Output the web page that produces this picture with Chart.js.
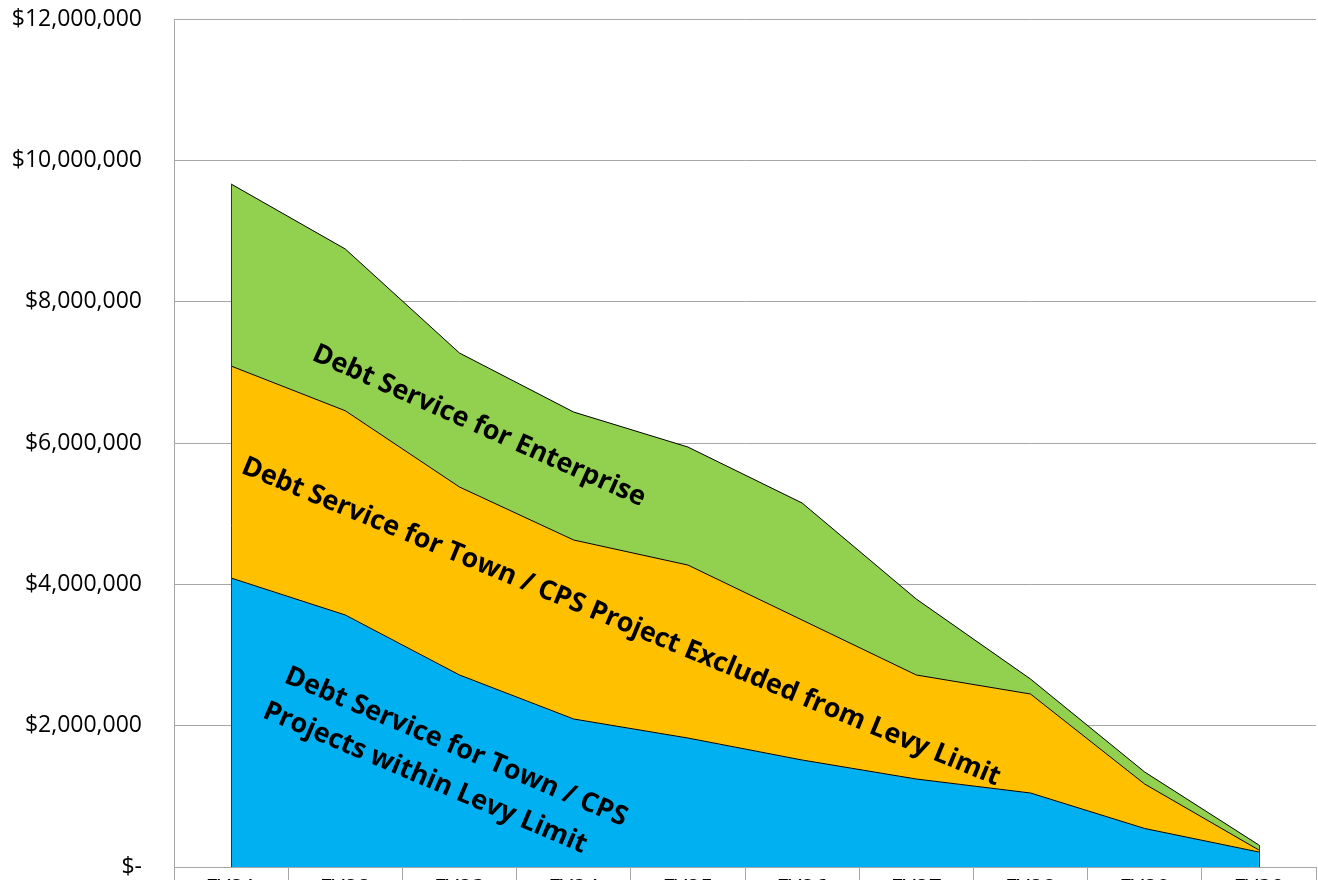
<!DOCTYPE html>
<html>
<head>
<meta charset="utf-8">
<script src="https://cdn.jsdelivr.net/npm/chart.js@4/dist/chart.umd.min.js"></script>
<style>
  html, body { margin: 0; padding: 0; background: #fff; overflow: hidden; }
  #wrap { position: absolute; left: 0; top: 0; width: 1318px; height: 910px; }
</style>
</head>
<body>
<div id="wrap"><canvas id="c" width="1318" height="910"></canvas></div>
<script>
// ---- data ----
const categories = ["FY21","FY22","FY23","FY24","FY25","FY26","FY27","FY28","FY29","FY30"];
const seriesNames = [
  "Debt Service for Town / CPS Projects within Levy Limit",
  "Debt Service for Town / CPS Project Excluded from Levy Limit",
  "Debt Service for Enterprise"
];
const withinLevy   = [4089000, 3566000, 2717000, 2094000, 1825000, 1514000, 1245000, 1047000, 545000, 212000];
const excludedLevy = [3000000, 2890000, 2660000, 2533000, 2448000, 1981000, 1472000, 1401000, 629000, 28000];
const enterprise   = [2576000, 2289000, 1896000, 1811000, 1670000, 1656000, 1075000, 212000, 170000, 71000];
const yTicksMax = 12000000;
const yTickStep = 2000000;

const colors = ["#00B0F0", "#FFC000", "#92D050"];
const FONT = "'Open Sans', 'DejaVu Sans', sans-serif";

// annotation labels drawn on the areas (pixel placement is layout only)
const annotations = [
  { lines: ["Debt Service for Enterprise"], cx: 479, cy: 426, angle: 24 },
  { lines: ["Debt Service for Town / CPS Project Excluded from Levy Limit"], cx: 621, cy: 622, angle: 22.5 },
  { lines: ["Debt Service for Town / CPS"], cx: 456, cy: 747, angle: 23 },
  { lines: ["Projects within Levy Limit"], cx: 425, cy: 778, angle: 23 }
];

const annotationPlugin = {
  id: 'areaLabels',
  afterDatasetsDraw(chart) {
    const ctx = chart.ctx;
    const yScale = chart.scales.y;
    const topMeta = chart.getDatasetMeta(2);
    const pts = topMeta.data;
    ctx.save();
    ctx.strokeStyle = '#333';
    ctx.lineWidth = 1;
    [pts[0], pts[pts.length - 1]].forEach(p => {
      const x = Math.round(p.x) + 0.5;
      ctx.beginPath();
      ctx.moveTo(x, p.y);
      ctx.lineTo(x, yScale.getPixelForValue(0));
      ctx.stroke();
    });
    ctx.restore();

    ctx.save();
    ctx.fillStyle = '#000';
    ctx.font = "bold 27px " + FONT;
    ctx.textAlign = 'center';
    ctx.textBaseline = 'middle';
    annotations.forEach(a => {
      ctx.save();
      ctx.translate(a.cx, a.cy);
      ctx.rotate(a.angle * Math.PI / 180);
      a.lines.forEach((t, i) => ctx.fillText(t, 0, i * 30));
      ctx.restore();
    });
    ctx.restore();
  }
};

const datasets = [withinLevy, excludedLevy, enterprise].map((d, i) => ({
  label: seriesNames[i],
  data: d,
  backgroundColor: colors[i],
  borderColor: '#000',
  borderWidth: 1,
  pointRadius: 0,
  tension: 0,
  fill: i === 0 ? 'origin' : '-1'
}));

new Chart(document.getElementById('c'), {
  type: 'line',
  data: { labels: categories, datasets },
  plugins: [annotationPlugin],
  options: {
    responsive: false,
    animation: false,
    devicePixelRatio: 1,
    layout: { padding: { left: 0, right: 2, top: 19, bottom: 0 } },
    plugins: { legend: { display: false }, tooltip: { enabled: false } },
    scales: {
      x: {
        offset: true,
        grid: {
          display: true,
          offset: true,
          drawOnChartArea: false,
          drawTicks: true,
          tickLength: 16,
          color: '#A6A6A6'
        },
        border: { display: true, color: '#A6A6A6', width: 1 },
        ticks: { color: '#000', font: { family: FONT, size: 23 }, padding: -7, maxRotation: 0, minRotation: 0, autoSkip: false },
        afterFit(scale) { scale.height = 43; }
      },
      y: {
        stacked: true,
        min: 0,
        max: yTicksMax,
        grid: { color: '#A6A6A6', drawTicks: false },
        border: { display: true, color: '#A6A6A6', width: 1 },
        ticks: {
          stepSize: yTickStep,
          color: '#000',
          padding: 32,
          font: { family: FONT, size: 23 },
          callback: v => v === 0 ? '$-' : '$' + v.toLocaleString('en-US')
        },
        afterFit(scale) { scale.width = 174; scale.paddingTop = 0; scale.paddingBottom = 0; }
      }
    }
  }
});
</script>
</body>
</html>
